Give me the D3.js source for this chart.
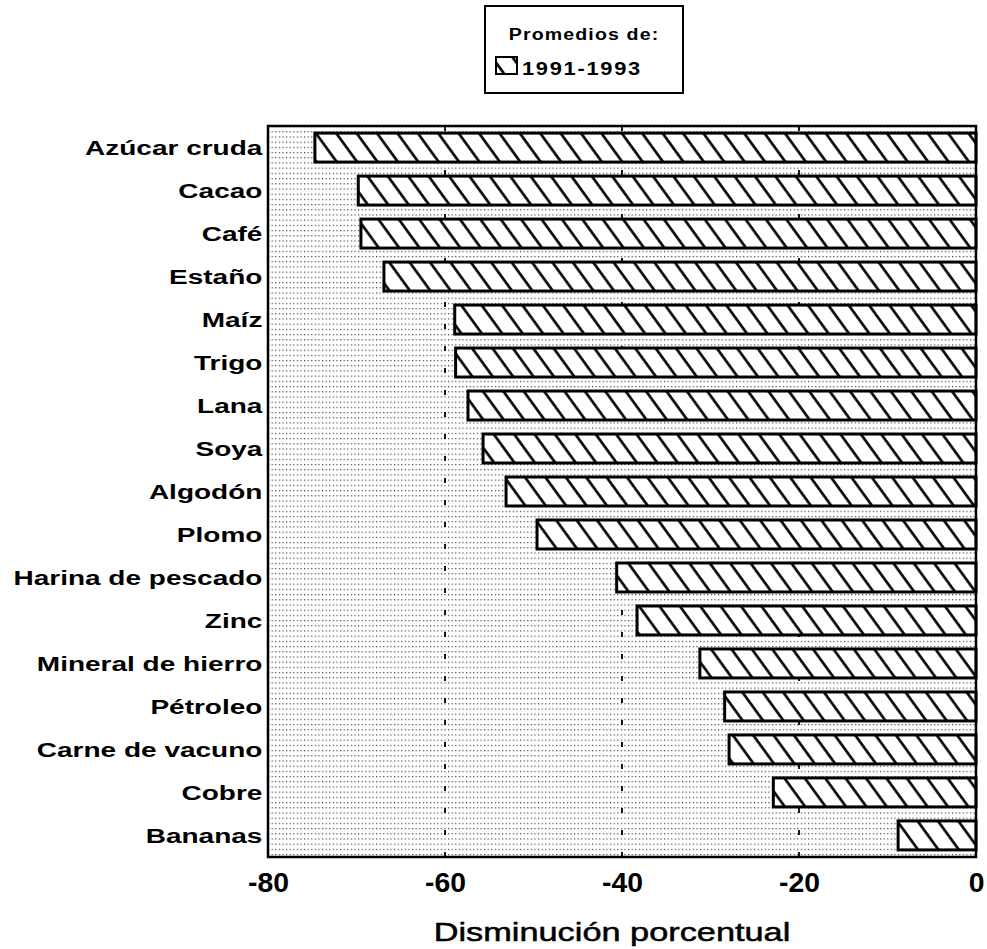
<!DOCTYPE html>
<html>
<head>
<meta charset="utf-8">
<script src="https://cdn.jsdelivr.net/npm/d3@7"></script>
<style>
  body { margin: 0; background: #fff; }
  text { font-family: "Liberation Sans", Arial, sans-serif; fill: #000; }
</style>
</head>
<body>
<svg id="chart"></svg>
<script>
// data
var categories = ["Azúcar cruda", "Cacao", "Café", "Estaño", "Maíz", "Trigo", "Lana", "Soya",
  "Algodón", "Plomo", "Harina de pescado", "Zinc", "Mineral de hierro", "Pétroleo",
  "Carne de vacuno", "Cobre", "Bananas"];
var values = [-74.7, -69.8, -69.5, -66.9, -58.9, -58.8, -57.4, -55.7,
  -53.1, -49.6, -40.6, -38.3, -31.2, -28.4, -27.9, -22.9, -8.8];
var xTicks = [-80, -60, -40, -20, 0];
var gridTicks = [-60, -40, -20];
var legendTitle = "Promedios de:";
var seriesName = "1991-1993";
var axisTitle = "Disminución porcentual";

// dimensions
var margin = { left: 268, right: 11, top: 126, bottom: 92 },
    width = 987 - margin.left - margin.right,
    height = 949 - margin.top - margin.bottom;

var svg = d3.select("#chart")
  .attr("width", 987)
  .attr("height", 949);

// patterns
var defs = svg.append("defs");
var dots = defs.append("pattern")
  .attr("id", "dots")
  .attr("patternUnits", "userSpaceOnUse")
  .attr("width", 3.6)
  .attr("height", 5.2);
dots.append("rect")
  .attr("width", 1.2).attr("height", 1.2)
  .attr("fill", "#444");

var hatch = defs.append("pattern")
  .attr("id", "hatch")
  .attr("patternUnits", "userSpaceOnUse")
  .attr("width", 16.5)
  .attr("height", 10)
  .attr("patternTransform", "rotate(-36)");
hatch.append("rect").attr("width", 16.5).attr("height", 10).attr("fill", "#fff");
hatch.append("line")
  .attr("x1", 1.5).attr("x2", 1.5)
  .attr("y1", 0).attr("y2", 10)
  .attr("stroke", "#000")
  .attr("stroke-width", 2.6);

var g = svg.append("g")
  .attr("transform", "translate(" + margin.left + "," + margin.top + ")");

// scales
var x = d3.scaleLinear().domain([-80, 0]).range([0, width]);
var y = d3.scaleBand().domain(categories).range([0, height])
  .paddingInner(0.326).paddingOuter(0.165);

// background
g.append("rect")
  .attr("width", width)
  .attr("height", height)
  .attr("fill", "url(#dots)");

// dashed grid lines
g.selectAll(".grid")
  .data(gridTicks)
  .enter().append("line")
  .attr("class", "grid")
  .attr("x1", function(d) { return x(d); })
  .attr("x2", function(d) { return x(d); })
  .attr("y1", 0)
  .attr("y2", height)
  .attr("stroke", "#000")
  .attr("stroke-width", 1.8)
  .attr("stroke-dasharray", "5,17");

// bars
g.selectAll(".bar")
  .data(values)
  .enter().append("rect")
  .attr("class", "bar")
  .attr("x", function(d) { return x(d); })
  .attr("y", function(d, i) { return y(categories[i]); })
  .attr("width", function(d) { return x(0) - x(d); })
  .attr("height", y.bandwidth())
  .attr("fill", "url(#hatch)")
  .attr("stroke", "#000")
  .attr("stroke-width", 3);

// frame
g.append("rect")
  .attr("width", width)
  .attr("height", height)
  .attr("fill", "none")
  .attr("stroke", "#000")
  .attr("stroke-width", 2.5);

// y axis labels
var yAxis = g.append("g")
  .call(d3.axisLeft(y).tickSize(0).tickPadding(4));
yAxis.select(".domain").remove();
yAxis.selectAll("text")
  .attr("font-size", 20)
  .attr("font-weight", "bold")
  .attr("font-family", "Liberation Sans, Arial, sans-serif")
  .attr("dy", "0.38em")
  .attr("transform", "scale(1.4,1)");

// x axis labels
var xAxis = g.append("g")
  .attr("transform", "translate(0," + height + ")")
  .call(d3.axisBottom(x).tickValues(xTicks).tickSize(0).tickPadding(16)
    .tickFormat(function(d) { return String(d); }));
xAxis.select(".domain").remove();
xAxis.selectAll("text")
  .attr("font-size", 27)
  .attr("font-weight", "bold")
  .attr("font-family", "Liberation Sans, Arial, sans-serif")
  .attr("transform", "scale(1.05,1)");

// axis title
svg.append("text")
  .attr("transform", "translate(" + (margin.left + width / 2 - 10) + ",941) scale(1.32,1)")
  .attr("text-anchor", "middle")
  .attr("font-size", 26)
  .attr("stroke", "#000")
  .attr("stroke-width", 0.5)
  .text(axisTitle);

// legend
var legend = svg.append("g");
legend.append("rect")
  .attr("x", 485).attr("y", 6)
  .attr("width", 198).attr("height", 87)
  .attr("fill", "#fff")
  .attr("stroke", "#000")
  .attr("stroke-width", 2);
legend.append("text")
  .attr("transform", "translate(584,40) scale(1.15,1)")
  .attr("text-anchor", "middle")
  .attr("font-size", 17)
  .attr("font-weight", "bold")
  .attr("letter-spacing", 1)
  .text(legendTitle);
legend.append("rect")
  .attr("x", 496).attr("y", 57)
  .attr("width", 21).attr("height", 17)
  .attr("fill", "url(#hatch)")
  .attr("stroke", "#000")
  .attr("stroke-width", 2);
legend.append("text")
  .attr("transform", "translate(522,75) scale(1.15,1)")
  .attr("font-size", 19)
  .attr("font-weight", "bold")
  .attr("letter-spacing", 1.5)
  .text(seriesName);
</script>
</body>
</html>
